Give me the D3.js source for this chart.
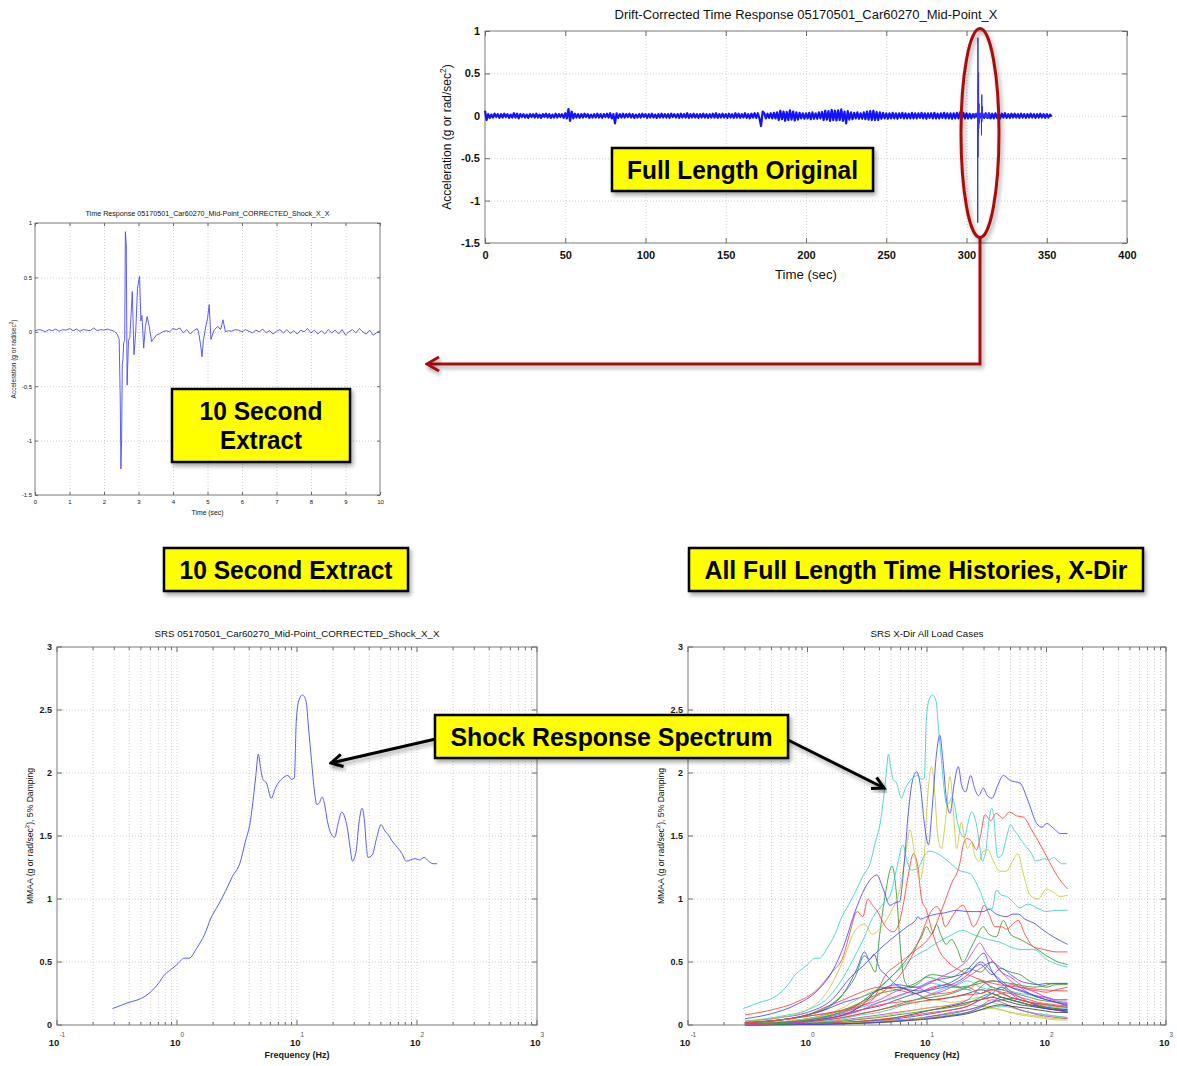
<!DOCTYPE html>
<html>
<head>
<meta charset="utf-8">
<script src="https://cdn.jsdelivr.net/npm/d3@7"></script>
<style>
  body { margin: 0; background: #fff; }
  svg text { font-family: "Liberation Sans", Arial, Helvetica, sans-serif; }
  .grid { stroke: #c4c4c4; stroke-width: 0.8; stroke-dasharray: 1,2; }
  .frame { fill: none; stroke: #7a7a7a; stroke-width: 1; }
</style>
</head>
<body>
<svg id="chart" width="1177" height="1066"></svg>
<script>
// ---- tick labels ----
const timeTicks = [0, 50, 100, 150, 200, 250, 300, 350, 400];
const extractTicks = [0, 1, 2, 3, 4, 5, 6, 7, 8, 9, 10];
const accTicks = [-1.5, -1, -0.5, 0, 0.5, 1];
const mmaaTicks = [0, 0.5, 1, 1.5, 2, 2.5, 3];
const decades = [0.1, 1, 10, 100, 1000];
const decadeExp = ['-1', '0', '1', '2', '3'];

// ---- full length record, 1 s samples (g) ----
const fullDt = 1;
const fullAcc = [
  0.06, -0.05, 0.02, -0.025, 0.015, -0.02, 0.025, -0.015, 0.02, -0.025,
  0.02, -0.02, 0.025, -0.015, 0.02, -0.025, 0.015, -0.02, 0.03, -0.02,
  0.025, -0.03, 0.02, -0.015, 0.02, -0.02, 0.015, -0.025, 0.02, -0.015,
  0.02, -0.02, 0.025, -0.02, 0.015, -0.025, 0.02, -0.015, 0.025, -0.02,
  0.02, -0.025, 0.015, -0.02, 0.025, -0.02, 0.02, -0.015, 0.02, -0.025,
  0.03, -0.03, 0.08, -0.06, 0.05, -0.03, 0.025, -0.02, 0.02, -0.025,
  0.02, -0.02, 0.025, -0.015, 0.02, -0.025, 0.015, -0.02, 0.02, -0.02,
  0.025, -0.02, 0.02, -0.025, 0.02, -0.015, 0.025, -0.02, 0.03, -0.03,
  0.02, -0.09, 0.03, -0.025, 0.02, -0.02, 0.025, -0.02, 0.02, -0.015,
  0.025, -0.02, 0.02, -0.025, 0.015, -0.02, 0.02, -0.02, 0.025, -0.015,
  0.02, -0.025, 0.02, -0.02, 0.025, -0.02, 0.015, -0.025, 0.02, -0.02,
  0.025, -0.02, 0.02, -0.02, 0.02, -0.025, 0.025, -0.015, 0.02, -0.02,
  0.02, -0.025, 0.025, -0.02, 0.02, -0.02, 0.03, -0.025, 0.02, -0.02,
  0.025, -0.02, 0.02, -0.025, 0.02, -0.02, 0.025, -0.02, 0.02, -0.025,
  0.02, -0.02, 0.025, -0.02, 0.03, -0.025, 0.02, -0.02, 0.025, -0.02,
  0.02, -0.025, 0.025, -0.02, 0.02, -0.025, 0.03, -0.02, 0.025, -0.025,
  0.02, -0.02, 0.03, -0.025, 0.02, -0.03, 0.025, -0.02, 0.03, -0.025,
  0.03, -0.03, -0.12, 0.05, 0.03, -0.03, 0.025, -0.025, 0.03, -0.03,
  0.035, -0.03, 0.04, -0.05, 0.06, -0.04, 0.05, -0.06, 0.045, -0.05,
  0.065, -0.045, 0.05, -0.055, 0.04, -0.045, 0.035, -0.03, 0.03, -0.035,
  0.03, -0.03, 0.035, -0.04, 0.04, -0.035, 0.03, -0.035, 0.04, -0.03,
  0.045, -0.05, 0.06, -0.045, 0.055, -0.06, 0.07, -0.05, 0.06, -0.055,
  0.065, -0.05, 0.075, -0.06, 0.05, -0.09, 0.055, -0.045, 0.04, -0.04,
  0.035, -0.03, 0.04, -0.035, 0.03, -0.035, 0.04, -0.04, 0.05, -0.045,
  0.055, -0.05, 0.06, -0.05, 0.045, -0.05, 0.04, -0.035, 0.035, -0.03,
  0.03, -0.035, 0.03, -0.03, 0.035, -0.03, 0.03, -0.035, 0.03, -0.025,
  0.035, -0.03, 0.03, -0.03, 0.025, -0.03, 0.035, -0.03, 0.03, -0.03,
  0.03, -0.025, 0.035, -0.03, 0.03, -0.035, 0.03, -0.025, 0.03, -0.03,
  0.035, -0.03, 0.025, -0.03, 0.03, -0.025, 0.035, -0.03, 0.03, -0.03,
  0.03, -0.035, 0.03, -0.03, 0.035, -0.03, 0.04, -0.035, 0.035, -0.03,
  0.03, -0.03, 0.025, -0.03, 0.02, -0.02, 0.015, -0.02, 0.02, -0.02,
  0.02, -0.025, 0.03, -0.025, 0.03, -0.03, 0.025, -0.03, 0.03, -0.025,
  0.025, -0.03, 0.025, -0.02, 0.03, -0.025, 0.02, -0.025, 0.025, -0.02,
  0.025, -0.02, 0.02, -0.025, 0.025, -0.02, 0.02, -0.025, 0.02, -0.02,
  0.025, -0.02, 0.02, -0.025, 0.02, -0.02, 0.025, -0.02, 0.02, -0.025,
  0.02, -0.02, 0.015, -0.01
];

// ---- 10 second extract [time s, accel g] ----
const extractStart = 304.5;
const extractAcc = [
  [0, 0.01], [0.1, 0.02], [0.2, 0.015], [0.3, 0.0], [0.4, 0.02], [0.5, 0.01], [0.6, 0.025], [0.7, 0.005],
  [0.8, 0.02], [0.9, 0.015], [1.0, 0.03], [1.1, 0.01], [1.2, 0.025], [1.3, 0.005], [1.4, 0.02], [1.5, 0.015],
  [1.6, 0.01], [1.7, 0.035], [1.8, 0.01], [1.9, 0.02], [2.0, 0.015], [2.1, 0.025], [2.2, 0.015], [2.3, 0.005],
  [2.38, -0.02], [2.44, -0.07], [2.47, -0.6], [2.49, -1.26], [2.51, -1.0], [2.53, -0.3], [2.55, -0.25], [2.57, -0.1],
  [2.6, -0.08], [2.62, 0.92], [2.645, 0.8], [2.67, -0.49], [2.71, -0.08], [2.75, -0.05], [2.82, 0.37], [2.87, -0.21],
  [2.92, 0.0], [2.97, 0.4], [3.03, 0.51], [3.07, 0.1], [3.1, 0.15], [3.15, -0.15], [3.2, 0.05], [3.25, 0.14],
  [3.31, 0.05], [3.38, -0.09], [3.45, -0.06], [3.52, -0.03], [3.6, -0.02], [3.7, 0.0], [3.8, 0.01], [3.9, 0.0],
  [4.0, 0.03], [4.1, 0.02], [4.2, 0.035], [4.3, -0.01], [4.4, 0.02], [4.5, -0.02], [4.6, 0.01], [4.7, 0.03],
  [4.74, 0.0], [4.8, -0.12], [4.84, -0.23], [4.88, -0.08], [4.95, 0.05], [5.0, 0.12], [5.05, 0.25], [5.1, -0.07],
  [5.15, -0.02], [5.2, 0.02], [5.3, 0.05], [5.38, 0.02], [5.45, 0.11], [5.52, 0.0], [5.6, 0.01], [5.7, 0.005],
  [5.8, 0.02], [5.9, 0.015], [6.0, 0.0], [6.1, 0.02], [6.2, 0.005], [6.3, -0.01], [6.4, 0.015], [6.5, 0.0],
  [6.6, 0.025], [6.7, -0.01], [6.8, 0.01], [6.9, -0.02], [7.0, 0.005], [7.1, 0.02], [7.2, -0.01], [7.3, 0.02],
  [7.4, -0.015], [7.5, 0.01], [7.6, -0.02], [7.7, 0.015], [7.8, 0.0], [7.9, 0.03], [8.0, -0.01], [8.1, 0.015],
  [8.2, -0.02], [8.3, 0.01], [8.4, -0.02], [8.5, 0.02], [8.6, -0.01], [8.7, 0.015], [8.8, -0.02], [8.9, 0.02],
  [9.0, -0.03], [9.1, 0.0], [9.2, 0.02], [9.3, -0.01], [9.4, 0.03], [9.5, 0.0], [9.6, -0.02], [9.7, 0.015],
  [9.8, -0.03], [9.9, -0.01], [10.0, 0.01]
];

// ---- SRS of the extract [freq Hz, MMAA] ----
const srsMain = [
  [0.29, 0.13], [0.4, 0.18], [0.5, 0.21], [0.6, 0.26], [0.7, 0.33], [0.79, 0.40], [0.89, 0.44], [1.0, 0.48],
  [1.15, 0.53], [1.26, 0.53], [1.46, 0.61], [1.7, 0.72], [1.92, 0.85], [2.2, 0.95], [2.53, 1.06], [2.9, 1.18],
  [3.33, 1.28], [3.7, 1.45], [4.09, 1.62], [4.35, 1.82], [4.54, 1.98], [4.76, 2.15], [4.95, 2.05], [5.2, 1.95],
  [5.57, 1.92], [6.1, 1.80], [6.6, 1.88], [7.6, 1.96], [8.4, 1.98], [9.0, 1.95], [9.5, 1.96], [9.86, 2.41],
  [10.4, 2.58], [11.1, 2.62], [11.9, 2.57], [12.5, 2.35], [13.2, 2.10], [14.0, 1.85], [14.6, 1.75], [15.3, 1.76],
  [16.2, 1.81], [17.0, 1.75], [17.9, 1.62], [19.2, 1.52], [20.6, 1.49], [22.0, 1.60], [23.6, 1.69], [24.8, 1.66],
  [26.2, 1.57], [27.6, 1.42], [29.0, 1.30], [30.2, 1.33], [31.1, 1.38], [33.0, 1.62], [34.9, 1.72], [36.5, 1.62],
  [38.0, 1.40], [39.0, 1.33], [42.4, 1.35], [46, 1.48], [50.2, 1.59], [54, 1.54], [57.6, 1.51], [62, 1.46],
  [68.5, 1.41], [75, 1.36], [81.3, 1.30], [88, 1.31], [96.6, 1.32], [105, 1.31], [114.7, 1.33], [125, 1.30],
  [136, 1.28], [147, 1.28]
];

// ---- other load cases, prominent ones [freq Hz, MMAA] ----
const caseBlueA = [[0.3,0.05],[0.5,0.09],[0.8,0.16],[1.2,0.27],[1.6,0.42],[2.0,0.62],[2.5,0.9],[3.0,1.08],[3.4,1.16],[3.8,1.19],[4.3,1.08],[4.9,0.95],[5.4,0.97],[5.9,0.98],[6.4,1.25],[7.0,1.7],[7.6,1.95],[8.2,2.01],[8.8,1.9],[9.5,1.6],[10.3,1.43],[11.0,1.7],[12.0,2.15],[12.8,2.30],[13.6,2.1],[14.5,1.8],[15.6,1.68],[16.8,1.9],[18.3,2.05],[19.5,1.9],[21,1.85],[23.2,1.98],[25,1.88],[27,1.82],[29.6,1.88],[32,1.82],[35,1.8],[39,1.9],[43.5,1.98],[50,1.94],[60,1.92],[70,1.78],[82.8,1.60],[92,1.57],[100,1.60],[115,1.56],[130,1.52],[150,1.52]];
const caseYellowA = [[0.3,0.03],[0.6,0.06],[1.0,0.12],[1.5,0.28],[2.0,0.52],[2.5,0.75],[3.0,0.8],[3.5,0.72],[4.0,0.76],[5.0,0.9],[6.0,1.1],[6.6,1.35],[7.2,1.55],[7.9,1.35],[8.7,1.15],[9.4,1.3],[10.1,1.8],[10.9,2.05],[11.6,1.85],[12.3,1.5],[13.2,1.4],[14.2,1.6],[15.6,1.97],[16.6,1.7],[17.7,1.40],[19.4,1.61],[20.5,1.5],[21.9,1.40],[23.5,1.45],[25,1.35],[27.3,1.3],[29.5,1.38],[32.3,1.39],[36,1.3],[40.8,1.22],[46,1.22],[52,1.3],[57.5,1.36],[64,1.2],[72.8,1.03],[85,1.0],[100,1.08],[115,1.05],[130,1.02],[150,1.03]];
const caseRedA = [[0.3,0.02],[0.6,0.04],[1.0,0.07],[1.6,0.1],[2.5,0.14],[3.5,0.2],[4.6,0.41],[5.5,0.47],[6.8,0.54],[8.2,0.6],[10,0.67],[11.5,0.76],[12.5,0.85],[13.6,0.94],[15,1.05],[16.5,1.15],[17.7,1.2],[18.8,1.28],[20,1.42],[21.5,1.48],[23.5,1.46],[26,1.39],[28,1.5],[30.6,1.67],[34,1.62],[38,1.68],[43,1.64],[49,1.69],[56,1.66],[64,1.65],[75,1.55],[90,1.42],[105,1.3],[120,1.2],[135,1.13],[150,1.08]];
const caseRedB = [[0.3,0.08],[0.5,0.12],[0.8,0.18],[1.2,0.28],[1.6,0.42],[2.0,0.55],[2.26,0.73],[2.6,0.9],[2.9,0.86],[3.2,1.0],[3.5,0.95],[3.8,0.91],[4.5,0.78],[5.2,0.74],[5.8,0.8],[6.4,0.98],[7.0,1.2],[7.7,1.36],[8.4,1.25],[9.0,1.0],[9.9,0.91],[11,0.75],[12.5,0.6],[15,0.5],[20,0.42],[28,0.36],[40,0.32],[60,0.3],[90,0.28],[150,0.27]];
const caseCyanB = [[0.3,0.03],[0.6,0.07],[1.0,0.12],[1.5,0.22],[2.0,0.38],[2.5,0.55],[3.0,0.7],[3.5,0.85],[4.2,0.95],[5.0,1.05],[5.6,1.25],[6.3,1.43],[6.8,1.3],[7.4,1.23],[8.3,1.24],[9.6,1.35],[10.5,1.38],[12.8,1.35],[15,1.3],[18.3,1.23],[23,1.2],[27.6,1.07],[32,0.93],[35,0.92],[38,1.07],[42,1.03],[46.5,1.02],[52,0.98],[60,0.93],[70,0.96],[83,0.93],[100,0.9],[120,0.91],[150,0.91]];
const caseBlueB = [[0.3,0.03],[0.6,0.06],[1.0,0.1],[1.6,0.2],[2.3,0.38],[3.0,0.48],[4.0,0.6],[5.0,0.68],[6.8,0.78],[8.0,0.83],[8.4,0.86],[8.8,0.84],[10,0.86],[12,0.88],[14,0.89],[17.7,0.91],[22,0.9],[26,0.9],[29.5,0.9],[33,0.92],[38,0.88],[46.5,0.86],[52,0.88],[58,0.88],[66,0.84],[78,0.81],[95,0.75],[114,0.7],[130,0.67],[150,0.64]];
const caseRedC = [[0.3,0.02],[0.6,0.04],[1.0,0.07],[2,0.12],[3,0.18],[4.5,0.28],[6,0.4],[7.5,0.55],[9,0.72],[10.5,0.88],[12,0.94],[13,0.9],[14.2,0.78],[16,0.85],[18,0.92],[20,0.95],[22,0.88],[24.4,0.78],[27,0.84],[30,0.95],[33,0.88],[37,0.78],[42,0.78],[46.5,0.76],[52,0.8],[58,0.83],[66,0.72],[78,0.62],[95,0.6],[120,0.58],[150,0.58]];
const caseGreenA = [[0.3,0.02],[0.6,0.04],[1.0,0.08],[1.5,0.15],[2.0,0.25],[2.5,0.38],[3.0,0.55],[3.3,0.5],[3.7,0.42],[4.0,0.7],[4.5,1.05],[5.1,1.26],[5.6,1.0],[6.0,0.6],[6.5,0.35],[7.2,0.3],[8.5,0.33],[10,0.38],[13,0.35],[18,0.3],[25,0.32],[35,0.35],[50,0.33],[80,0.3],[120,0.33],[150,0.33]];
const caseGreenB = [[0.3,0.01],[0.6,0.02],[1.0,0.04],[1.6,0.08],[2.5,0.15],[3.5,0.25],[5,0.38],[6.5,0.5],[8,0.62],[9,0.7],[9.9,0.78],[11,0.72],[12,0.8],[13,0.72],[14.5,0.64],[16,0.68],[18,0.6],[20,0.5],[23,0.6],[26,0.7],[29.5,0.78],[33,0.72],[38,0.7],[43.5,0.83],[50,0.72],[60,0.68],[78,0.62],[100,0.55],[125,0.5],[150,0.48]];
const caseCyanC = [[0.3,0.01],[0.8,0.03],[1.5,0.07],[2,0.1],[3,0.2],[4,0.3],[6,0.45],[8,0.55],[10,0.6],[12,0.65],[15,0.7],[20,0.75],[24,0.72],[27.6,0.7],[32,0.68],[40,0.66],[50,0.62],[60,0.6],[78,0.6],[100,0.52],[125,0.48],[150,0.46]];
const caseBlueC = [[0.3,0.02],[0.6,0.04],[1,0.08],[1.5,0.14],[2,0.25],[2.6,0.45],[3.0,0.58],[3.3,0.52],[3.6,0.56],[4,0.45],[4.5,0.4],[5.5,0.32],[7,0.28],[9,0.27],[12,0.3],[16,0.34],[20,0.4],[25,0.5],[30,0.57],[34,0.45],[40,0.35],[50,0.3],[70,0.25],[100,0.2],[150,0.16]];
const caseMagentaA = [[0.3,0.005],[0.8,0.02],[1.5,0.05],[2.5,0.1],[4,0.18],[6,0.24],[9,0.3],[13,0.38],[18,0.45],[22,0.52],[25,0.6],[27.6,0.65],[31,0.58],[36,0.5],[42,0.42],[50,0.38],[65,0.3],[85,0.25],[110,0.2],[150,0.18]];

// ---- remaining low level load cases on a common frequency list ----
const clutterFreq = [0.3, 0.45, 0.7, 1, 1.4, 2, 2.8, 4, 5.6, 8, 11, 16, 22, 28, 35, 42, 50, 60, 72, 85, 100, 120, 150];
const clutterCases = [
  [0.02,0.03,0.05,0.08,0.12,0.18,0.22,0.28,0.32,0.3,0.35,0.38,0.42,0.48,0.4,0.45,0.4,0.35,0.33,0.32,0.33,0.33,0.33],
  [0.01,0.02,0.03,0.05,0.08,0.12,0.18,0.25,0.28,0.33,0.4,0.38,0.45,0.42,0.5,0.45,0.42,0.4,0.35,0.32,0.3,0.32,0.32],
  [0.02,0.03,0.05,0.08,0.14,0.2,0.26,0.3,0.28,0.25,0.3,0.32,0.28,0.35,0.3,0.28,0.32,0.3,0.28,0.27,0.26,0.28,0.3],
  [0.01,0.015,0.03,0.05,0.07,0.1,0.14,0.18,0.22,0.28,0.33,0.3,0.35,0.3,0.28,0.3,0.27,0.25,0.24,0.22,0.22,0.2,0.2],
  [0.005,0.01,0.02,0.04,0.06,0.1,0.15,0.2,0.27,0.3,0.25,0.3,0.38,0.45,0.5,0.42,0.35,0.3,0.25,0.23,0.22,0.2,0.2],
  [0.01,0.02,0.03,0.05,0.08,0.14,0.22,0.28,0.2,0.18,0.2,0.18,0.2,0.22,0.18,0.16,0.15,0.12,0.1,0.09,0.08,0.07,0.06],
  [0.005,0.01,0.015,0.03,0.05,0.08,0.15,0.28,0.3,0.25,0.2,0.22,0.25,0.28,0.25,0.22,0.2,0.18,0.16,0.15,0.14,0.13,0.12],
  [0.005,0.01,0.02,0.03,0.05,0.08,0.12,0.15,0.2,0.25,0.28,0.32,0.4,0.5,0.42,0.35,0.3,0.28,0.25,0.22,0.2,0.18,0.15],
  [0.005,0.01,0.015,0.025,0.04,0.06,0.09,0.12,0.16,0.2,0.22,0.25,0.3,0.35,0.3,0.28,0.26,0.24,0.22,0.2,0.19,0.18,0.17],
  [0.01,0.015,0.025,0.04,0.06,0.09,0.12,0.16,0.18,0.2,0.24,0.26,0.3,0.25,0.28,0.26,0.25,0.22,0.2,0.18,0.17,0.16,0.15],
  [0.005,0.008,0.012,0.02,0.03,0.05,0.08,0.1,0.14,0.2,0.25,0.3,0.28,0.25,0.3,0.26,0.22,0.2,0.18,0.16,0.15,0.14,0.13],
  [0.002,0.004,0.008,0.015,0.025,0.04,0.06,0.08,0.1,0.12,0.14,0.16,0.2,0.3,0.35,0.33,0.27,0.22,0.18,0.15,0.13,0.12,0.11],
  [0.003,0.005,0.01,0.015,0.025,0.035,0.05,0.07,0.09,0.12,0.14,0.15,0.16,0.15,0.14,0.12,0.1,0.09,0.08,0.07,0.06,0.05,0.05],
  [0.002,0.004,0.006,0.01,0.015,0.02,0.03,0.04,0.06,0.09,0.12,0.15,0.18,0.2,0.22,0.2,0.18,0.16,0.15,0.14,0.13,0.12,0.12],
  [0.002,0.003,0.005,0.008,0.012,0.018,0.025,0.035,0.05,0.07,0.09,0.12,0.15,0.2,0.25,0.3,0.25,0.2,0.18,0.15,0.13,0.12,0.1],
  [0.001,0.002,0.004,0.006,0.01,0.015,0.02,0.03,0.04,0.05,0.07,0.09,0.12,0.15,0.18,0.2,0.21,0.2,0.18,0.17,0.16,0.15,0.14],
  [0.002,0.003,0.005,0.008,0.012,0.02,0.03,0.045,0.06,0.08,0.1,0.12,0.15,0.2,0.22,0.25,0.22,0.2,0.18,0.16,0.14,0.12,0.1],
  [0.001,0.002,0.003,0.005,0.008,0.012,0.018,0.025,0.035,0.05,0.06,0.08,0.1,0.12,0.14,0.15,0.14,0.12,0.1,0.09,0.08,0.07,0.06],
  [0.001,0.002,0.003,0.005,0.008,0.012,0.02,0.03,0.04,0.05,0.07,0.1,0.12,0.15,0.2,0.18,0.15,0.12,0.1,0.08,0.07,0.06,0.05],
  [0.001,0.002,0.004,0.006,0.01,0.015,0.02,0.03,0.04,0.05,0.06,0.08,0.1,0.12,0.13,0.12,0.1,0.08,0.07,0.06,0.05,0.04,0.04],
  [0.001,0.002,0.003,0.005,0.007,0.01,0.014,0.02,0.03,0.04,0.05,0.07,0.09,0.12,0.15,0.16,0.15,0.14,0.13,0.12,0.11,0.1,0.1],
  [0.001,0.002,0.003,0.004,0.006,0.009,0.013,0.02,0.028,0.04,0.055,0.075,0.1,0.14,0.18,0.22,0.2,0.18,0.16,0.14,0.13,0.12,0.11],
  [0.002,0.004,0.007,0.012,0.02,0.03,0.045,0.06,0.08,0.1,0.12,0.14,0.17,0.22,0.25,0.22,0.2,0.18,0.16,0.15,0.14,0.13,0.12],
  [0.004,0.008,0.015,0.025,0.04,0.06,0.09,0.12,0.15,0.18,0.2,0.22,0.24,0.25,0.28,0.25,0.22,0.2,0.18,0.17,0.16,0.15,0.14]
];

// matlab line colour order b g r c m y k
const lineColors = ['#4545ff', '#2f9a2f', '#ff4040', '#3ccccc', '#cc3ccc', '#c8c83a', '#3c3c3c'];

const svg = d3.select('#chart');

// drop shadow for callouts
const defs = svg.append('defs');
const f = defs.append('filter').attr('id', 'shadow').attr('x', '-10%').attr('y', '-20%').attr('width', '130%').attr('height', '160%');
f.append('feDropShadow').attr('dx', 2).attr('dy', 3).attr('stdDeviation', 2).attr('flood-color', '#000').attr('flood-opacity', 0.35);

function styleAxis(sel, size, weight) {
  sel.attr('font-family', null).attr('font-size', size);
  sel.select('.domain').remove();
  sel.selectAll('.tick line').attr('stroke', '#6a6a6a');
  sel.selectAll('.tick text').attr('fill', '#111').attr('font-weight', weight || 'normal');
}

// linear time history panel
function timePanel(o) {
  const x = d3.scaleLinear().domain(o.xDomain).range([o.left, o.right]);
  const y = d3.scaleLinear().domain([-1.5, 1]).range([o.bottom, o.top]);
  const g = svg.append('g');
  const w = o.right - o.left, h = o.bottom - o.top;

  g.append('g').attr('transform', `translate(0,${o.bottom})`)
    .call(d3.axisBottom(x).tickValues(o.xTicks.slice(1, -1)).tickSize(-h).tickFormat(''))
    .call(s => { s.select('.domain').remove(); s.selectAll('line').attr('class', 'grid'); });
  g.append('g').attr('transform', `translate(${o.left},0)`)
    .call(d3.axisLeft(y).tickValues(accTicks.slice(1, -1)).tickSize(-w).tickFormat(''))
    .call(s => { s.select('.domain').remove(); s.selectAll('line').attr('class', 'grid'); });

  g.append('rect').attr('class', 'frame').attr('x', o.left).attr('y', o.top).attr('width', w).attr('height', h);

  g.append('g').attr('transform', `translate(0,${o.bottom})`)
    .call(d3.axisBottom(x).tickValues(o.xTicks).tickSize(-o.tick).tickPadding(o.xPad).tickFormat(d => String(d)))
    .call(s => styleAxis(s, o.font, o.weight));
  g.append('g').attr('transform', `translate(0,${o.top})`)
    .call(d3.axisTop(x).tickValues(o.xTicks).tickSize(-o.tick).tickFormat(''))
    .call(s => styleAxis(s, o.font));
  g.append('g').attr('transform', `translate(${o.left},0)`)
    .call(d3.axisLeft(y).tickValues(accTicks).tickSize(-o.tick).tickPadding(o.yPad).tickFormat(d => String(d)))
    .call(s => styleAxis(s, o.font, o.weight));
  g.append('g').attr('transform', `translate(${o.right},0)`)
    .call(d3.axisRight(y).tickValues(accTicks).tickSize(-o.tick).tickFormat(''))
    .call(s => styleAxis(s, o.font));

  g.append('text').attr('x', (o.left + o.right) / 2).attr('y', o.titleY).attr('text-anchor', 'middle')
    .attr('font-size', o.titleSize).attr('fill', '#111').attr('textLength', o.titleLen).attr('lengthAdjust', 'spacingAndGlyphs')
    .text(o.title);
  g.append('text').attr('x', (o.left + o.right) / 2).attr('y', o.xLabelY).attr('text-anchor', 'middle')
    .attr('font-size', o.labelSize).attr('fill', '#111').attr('textLength', o.xLabelLen).attr('lengthAdjust', 'spacingAndGlyphs')
    .text('Time (sec)');
  const yl = g.append('text').attr('transform', `translate(${o.yLabelX},${(o.top + o.bottom) / 2}) rotate(-90)`)
    .attr('text-anchor', 'middle').attr('font-size', o.labelSize).attr('fill', '#111');
  yl.append('tspan').text('Acceleration (g or rad/sec');
  yl.append('tspan').attr('dy', -o.labelSize * 0.45).attr('font-size', o.labelSize * 0.7).text('2');
  yl.append('tspan').attr('dy', o.labelSize * 0.45).text(')');
  return { x, y, g };
}

// log frequency SRS panel
function srsPanel(o) {
  const x = d3.scaleLog().domain([0.1, 1000]).range([o.left, o.right]);
  const y = d3.scaleLinear().domain([0, 3]).range([o.bottom, o.top]);
  const g = svg.append('g');
  const w = o.right - o.left, h = o.bottom - o.top;
  const minor = [];
  decades.slice(0, -1).forEach(d => { for (let k = 2; k <= 9; k++) minor.push(d * k); });

  g.append('g').selectAll('line').data(minor.concat(decades.slice(1, -1))).join('line')
    .attr('class', 'grid').attr('x1', d => x(d)).attr('x2', d => x(d)).attr('y1', o.top).attr('y2', o.bottom);
  g.append('g').selectAll('line').data(mmaaTicks.slice(1, -1)).join('line')
    .attr('class', 'grid').attr('x1', o.left).attr('x2', o.right).attr('y1', d => y(d)).attr('y2', d => y(d));
  g.append('rect').attr('class', 'frame').attr('x', o.left).attr('y', o.top).attr('width', w).attr('height', h);

  // inside ticks, both sides
  const tk = g.append('g').attr('stroke', '#6a6a6a');
  [[decades, 5], [minor, 3]].forEach(([vals, len]) => {
    tk.selectAll(null).data(vals).join('line').attr('x1', d => x(d)).attr('x2', d => x(d)).attr('y1', o.bottom).attr('y2', o.bottom - len);
    tk.selectAll(null).data(vals).join('line').attr('x1', d => x(d)).attr('x2', d => x(d)).attr('y1', o.top).attr('y2', o.top + len);
  });
  tk.selectAll(null).data(mmaaTicks).join('line').attr('x1', o.left).attr('x2', o.left + 5).attr('y1', d => y(d)).attr('y2', d => y(d));
  tk.selectAll(null).data(mmaaTicks).join('line').attr('x1', o.right).attr('x2', o.right - 5).attr('y1', d => y(d)).attr('y2', d => y(d));

  g.append('g').selectAll('text').data(mmaaTicks).join('text')
    .attr('x', o.left - 5).attr('y', d => y(d)).attr('dy', '0.34em').attr('text-anchor', 'end')
    .attr('font-size', 9).attr('font-weight', 'bold').attr('fill', '#1a1a1a').text(d => String(d));

  const xl = g.append('g').selectAll('text').data(decades).join('text')
    .attr('x', d => x(d)).attr('y', o.bottom + 21).attr('text-anchor', 'middle').attr('font-size', 9.5).attr('fill', '#1a1a1a');
  xl.append('tspan').attr('font-weight', 'bold').text('10');
  xl.append('tspan').attr('dy', -9).attr('font-size', 6.5).attr('fill', '#555').text((d, i) => decadeExp[i]);

  g.append('text').attr('x', (o.left + o.right) / 2).attr('y', o.top - 10).attr('text-anchor', 'middle')
    .attr('font-size', 9).attr('fill', '#111').attr('textLength', o.titleLen).attr('lengthAdjust', 'spacingAndGlyphs')
    .text(o.title);
  g.append('text').attr('x', (o.left + o.right) / 2).attr('y', o.bottom + 33).attr('text-anchor', 'middle')
    .attr('font-size', 9).attr('font-weight', 'bold').attr('fill', '#1a1a1a').attr('textLength', 65).attr('lengthAdjust', 'spacingAndGlyphs')
    .text('Frequency (Hz)');
  const yl = g.append('text').attr('transform', `translate(${o.left - 24},${(o.top + o.bottom) / 2}) rotate(-90)`)
    .attr('text-anchor', 'middle').attr('font-size', 8.6).attr('fill', '#111');
  yl.append('tspan').text('MMAA (g or rad/sec');
  yl.append('tspan').attr('dy', -4).attr('font-size', 6).text('2');
  yl.append('tspan').attr('dy', 4).text('), 5% Damping');
  return { x, y, g };
}

// ---------- top right: full length record ----------
const full = timePanel({
  left: 485, right: 1127, top: 31, bottom: 243, xDomain: [0, 400], xTicks: timeTicks,
  tick: 5, font: 11, xPad: 8, yPad: 5, weight: 'bold',
  title: 'Drift-Corrected Time Response 05170501_Car60270_Mid-Point_X', titleY: 19, titleSize: 12, titleLen: 383,
  xLabelY: 279, xLabelLen: 62, labelSize: 12, yLabelX: 451
});
full.g.append('path').datum(fullAcc)
  .attr('fill', 'none').attr('stroke', '#1212ff').attr('stroke-width', 2.2).attr('stroke-linejoin', 'round')
  .attr('d', d3.line().x((d, i) => full.x(i * fullDt)).y(d => full.y(d)));
full.g.append('path').datum(extractAcc)
  .attr('fill', 'none').attr('stroke', '#3030ff').attr('stroke-width', 1)
  .attr('d', d3.line().x(d => full.x(d[0] + extractStart)).y(d => full.y(d[1])));

// ---------- top left: 10 second extract ----------
const ext = timePanel({
  left: 35, right: 380, top: 223, bottom: 495, xDomain: [0, 10], xTicks: extractTicks,
  tick: 3, font: 6, xPad: 5, yPad: 3,
  title: 'Time Response 05170501_Car60270_Mid-Point_CORRECTED_Shock_X_X', titleY: 216, titleSize: 7, titleLen: 244,
  xLabelY: 515, xLabelLen: 32, labelSize: 6.5, yLabelX: 16
});
ext.g.append('path').datum(extractAcc)
  .attr('fill', 'none').attr('stroke', '#4848ff').attr('stroke-width', 0.9)
  .attr('d', d3.line().x(d => ext.x(d[0])).y(d => ext.y(d[1])));

// ---------- bottom left: SRS of extract ----------
const srsL = srsPanel({ left: 57, right: 537, top: 647, bottom: 1025,
  title: 'SRS 05170501_Car60270_Mid-Point_CORRECTED_Shock_X_X', titleLen: 285 });
const srsLine = (p) => d3.line().x(d => p.x(d[0])).y(d => p.y(d[1])).curve(d3.curveMonotoneX);
srsL.g.append('path').datum(srsMain)
  .attr('fill', 'none').attr('stroke', '#5a5aff').attr('stroke-width', 1)
  .attr('d', srsLine(srsL));

// ---------- bottom right: all load cases ----------
const srsR = srsPanel({ left: 688, right: 1166, top: 647, bottom: 1025,
  title: 'SRS X-Dir All Load Cases', titleLen: 113 });
const loadCases = clutterCases.map((vals, i) => ({ pts: vals.map((v, j) => [clutterFreq[j], v]), color: lineColors[i % 7] }))
  .concat([
    { pts: caseMagentaA, color: lineColors[4] },
    { pts: caseBlueC, color: lineColors[0] },
    { pts: caseCyanC, color: lineColors[3] },
    { pts: caseGreenB, color: lineColors[1] },
    { pts: caseGreenA, color: lineColors[1] },
    { pts: caseRedC, color: lineColors[2] },
    { pts: caseBlueB, color: lineColors[0] },
    { pts: caseCyanB, color: lineColors[3] },
    { pts: caseRedB, color: lineColors[2] },
    { pts: caseRedA, color: lineColors[2] },
    { pts: caseYellowA, color: lineColors[5] },
    { pts: caseBlueA, color: lineColors[0] },
    { pts: srsMain, color: lineColors[3] }
  ]);
srsR.g.append('g').selectAll('path').data(loadCases).join('path')
  .attr('fill', 'none').attr('stroke', d => d.color).attr('stroke-width', 1).attr('stroke-opacity', 0.85)
  .attr('d', d => srsLine(srsR)(d.pts));

// ---------- annotations ----------
const ann = svg.append('g');
const red = '#a8100f';
ann.append('path').attr('d', 'M980,237 V364 H428').attr('fill', 'none').attr('stroke', red).attr('stroke-width', 3).attr('filter', 'url(#shadow)');
ann.append('path').attr('d', 'M439,357 L427,364 L439,371').attr('fill', 'none').attr('stroke', red).attr('stroke-width', 3).attr('filter', 'url(#shadow)');
ann.append('ellipse').attr('cx', 980).attr('cy', 133).attr('rx', 19).attr('ry', 104.5)
  .attr('fill', 'none').attr('stroke', red).attr('stroke-width', 3).attr('filter', 'url(#shadow)');

function arrow(x1, y1, x2, y2) {
  const a = Math.atan2(y2 - y1, x2 - x1), L = 13, s = 0.5;
  ann.append('line').attr('x1', x1).attr('y1', y1).attr('x2', x2).attr('y2', y2)
    .attr('stroke', '#000').attr('stroke-width', 3).attr('filter', 'url(#shadow)');
  ann.append('path').attr('fill', 'none').attr('stroke', '#000').attr('stroke-width', 3).attr('filter', 'url(#shadow)')
    .attr('d', `M${x2 - L * Math.cos(a - s)},${y2 - L * Math.sin(a - s)} L${x2},${y2} L${x2 - L * Math.cos(a + s)},${y2 - L * Math.sin(a + s)}`);
}
arrow(440, 738, 331, 763);
arrow(786, 739, 884, 788);

function callout(x, y, w, h, lines) {
  const g = ann.append('g');
  g.append('rect').attr('x', x).attr('y', y).attr('width', w).attr('height', h)
    .attr('fill', '#ffff00').attr('stroke', '#000').attr('stroke-width', 2.5).attr('filter', 'url(#shadow)');
  lines.forEach(l => {
    g.append('text').attr('x', x + w / 2).attr('y', l.y).attr('text-anchor', 'middle')
      .attr('font-size', 26).attr('font-weight', 'bold').attr('fill', '#000')
      .attr('textLength', l.len).attr('lengthAdjust', 'spacingAndGlyphs').text(l.t);
  });
}
callout(612, 148, 261, 43, [{ t: 'Full Length Original', y: 179, len: 231 }]);
callout(172, 389, 178, 73, [{ t: '10 Second', y: 420, len: 123 }, { t: 'Extract', y: 449, len: 82 }]);
callout(164, 548, 244, 43, [{ t: '10 Second Extract', y: 579, len: 213 }]);
callout(689, 548, 454, 43, [{ t: 'All Full Length Time Histories, X-Dir', y: 579, len: 423 }]);
callout(435, 715, 353, 43, [{ t: 'Shock Response Spectrum', y: 746, len: 322 }]);
</script>
</body>
</html>
